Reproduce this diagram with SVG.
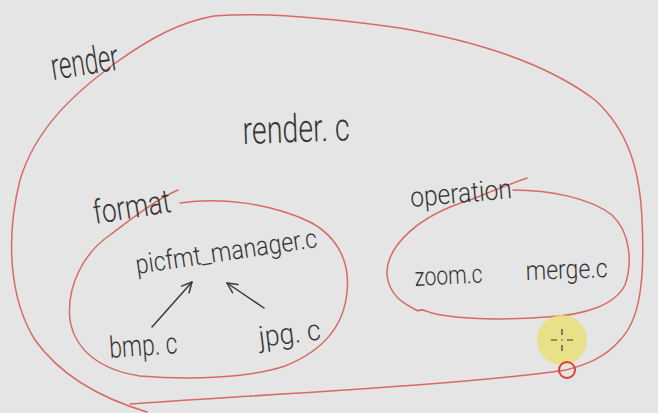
<svg xmlns="http://www.w3.org/2000/svg" width="658" height="413" viewBox="0 0 658 413">
  <style>
    .loop { fill: none; stroke: #d66a63; stroke-width: 1.5; stroke-linecap: round; stroke-linejoin: round; }
    .hand { font-family: Roboto, "Liberation Sans", sans-serif; font-weight: 300; fill: #363636; }
    .conn { fill: none; stroke: #3a3a3a; stroke-width: 1.5; stroke-linecap: round; }
  </style>
  <defs>
    <marker id="arrow" viewBox="0 0 12 12" refX="11" refY="6" markerWidth="12" markerHeight="12" markerUnits="userSpaceOnUse" orient="auto">
      <path d="M1,1 L11,6 L1,11" fill="none" stroke="#3a3a3a" stroke-width="1.5" stroke-linecap="round" stroke-linejoin="round"/>
    </marker>
  </defs>
  <rect width="658" height="413" fill="#e5e5e5"/>

  <g id="render">
    <path class="loop" d="M147,412 C100,398 60,375 35,340 C10,300 5,240 20,180 C35,130 72,95 114,64 C150,38 180,22 214,16 C260,12 330,18 400,28 C470,40 545,62 595,100 C628,130 640,170 642,220 C645,280 640,320 620,340 C605,358 585,365 566,370 C500,380 380,388 252,396 C200,399 160,402 130,404"/>
    <text class="hand" x="53" y="80" font-size="38" textLength="68" lengthAdjust="spacingAndGlyphs" transform="rotate(-9 53 80)">render</text>
  </g>

  <g id="render-c">
    <text class="hand" x="243" y="144" font-size="39" textLength="107" lengthAdjust="spacingAndGlyphs" transform="rotate(-2 243 144)">render. c</text>
  </g>

  <g id="format">
    <path class="loop" d="M180,203 C220,197 270,203 310,222 C340,238 350,265 347,292 C344,325 325,350 285,366 C250,378 190,380 140,376 C100,370 75,350 70,320 C66,285 85,252 110,235 C130,220 155,200 178,190"/>
    <text class="hand" x="95" y="224" font-size="33" textLength="78" lengthAdjust="spacingAndGlyphs" transform="rotate(-9 95 224)">format</text>
  </g>

  <g id="picfmt_manager">
    <text class="hand" x="137" y="274" font-size="27" textLength="183" lengthAdjust="spacingAndGlyphs" transform="rotate(-8.5 137 274)">picfmt_manager.c</text>
  </g>

  <g id="bmp">
    <text class="hand" x="110" y="358" font-size="30" textLength="68" lengthAdjust="spacingAndGlyphs" transform="rotate(-4 110 358)">bmp. c</text>
  </g>

  <g id="jpg">
    <text class="hand" x="260" y="347" font-size="29" textLength="62" lengthAdjust="spacingAndGlyphs" transform="rotate(-7 260 347)">jpg. c</text>
  </g>

  <g id="operation">
    <path class="loop" d="M513,190 C550,190 590,198 612,215 C630,232 633,262 625,285 C615,305 585,315 547,317 C510,320 460,320 432,313 C426,311 420,308 418,311 C410,306 390,300 387,275 C386,245 420,215 470,200 C490,192 510,184 527,178"/>
    <text class="hand" x="411" y="207" font-size="28" textLength="102" lengthAdjust="spacingAndGlyphs" transform="rotate(-5 411 207)">operation</text>
  </g>

  <g id="zoom">
    <text class="hand" x="415" y="286" font-size="26" textLength="68" lengthAdjust="spacingAndGlyphs" transform="rotate(-3 415 286)">zoom.c</text>
  </g>

  <g id="merge">
    <text class="hand" x="526" y="280" font-size="27" textLength="82" lengthAdjust="spacingAndGlyphs" transform="rotate(-2 526 280)">merge.c</text>
  </g>

  <g id="connectors">
    <path class="conn" d="M152,327 L192,282" marker-end="url(#arrow)"/>
    <path class="conn" d="M264,308 L227,283" marker-end="url(#arrow)"/>
  </g>

  <g id="cursor">
    <circle cx="562" cy="340" r="25" fill="#e8e07e" opacity="0.9"/>
    <path d="M562,329 V335 M562,345 V351 M551,340 H557 M567,340 H573" stroke="#3a3a3a" stroke-width="1.2"/>
    <circle cx="562" cy="340" r="0.8" fill="#3a3a3a"/>
    <circle cx="567" cy="370" r="8" fill="none" stroke="#d8403a" stroke-width="2"/>
  </g>
</svg>
